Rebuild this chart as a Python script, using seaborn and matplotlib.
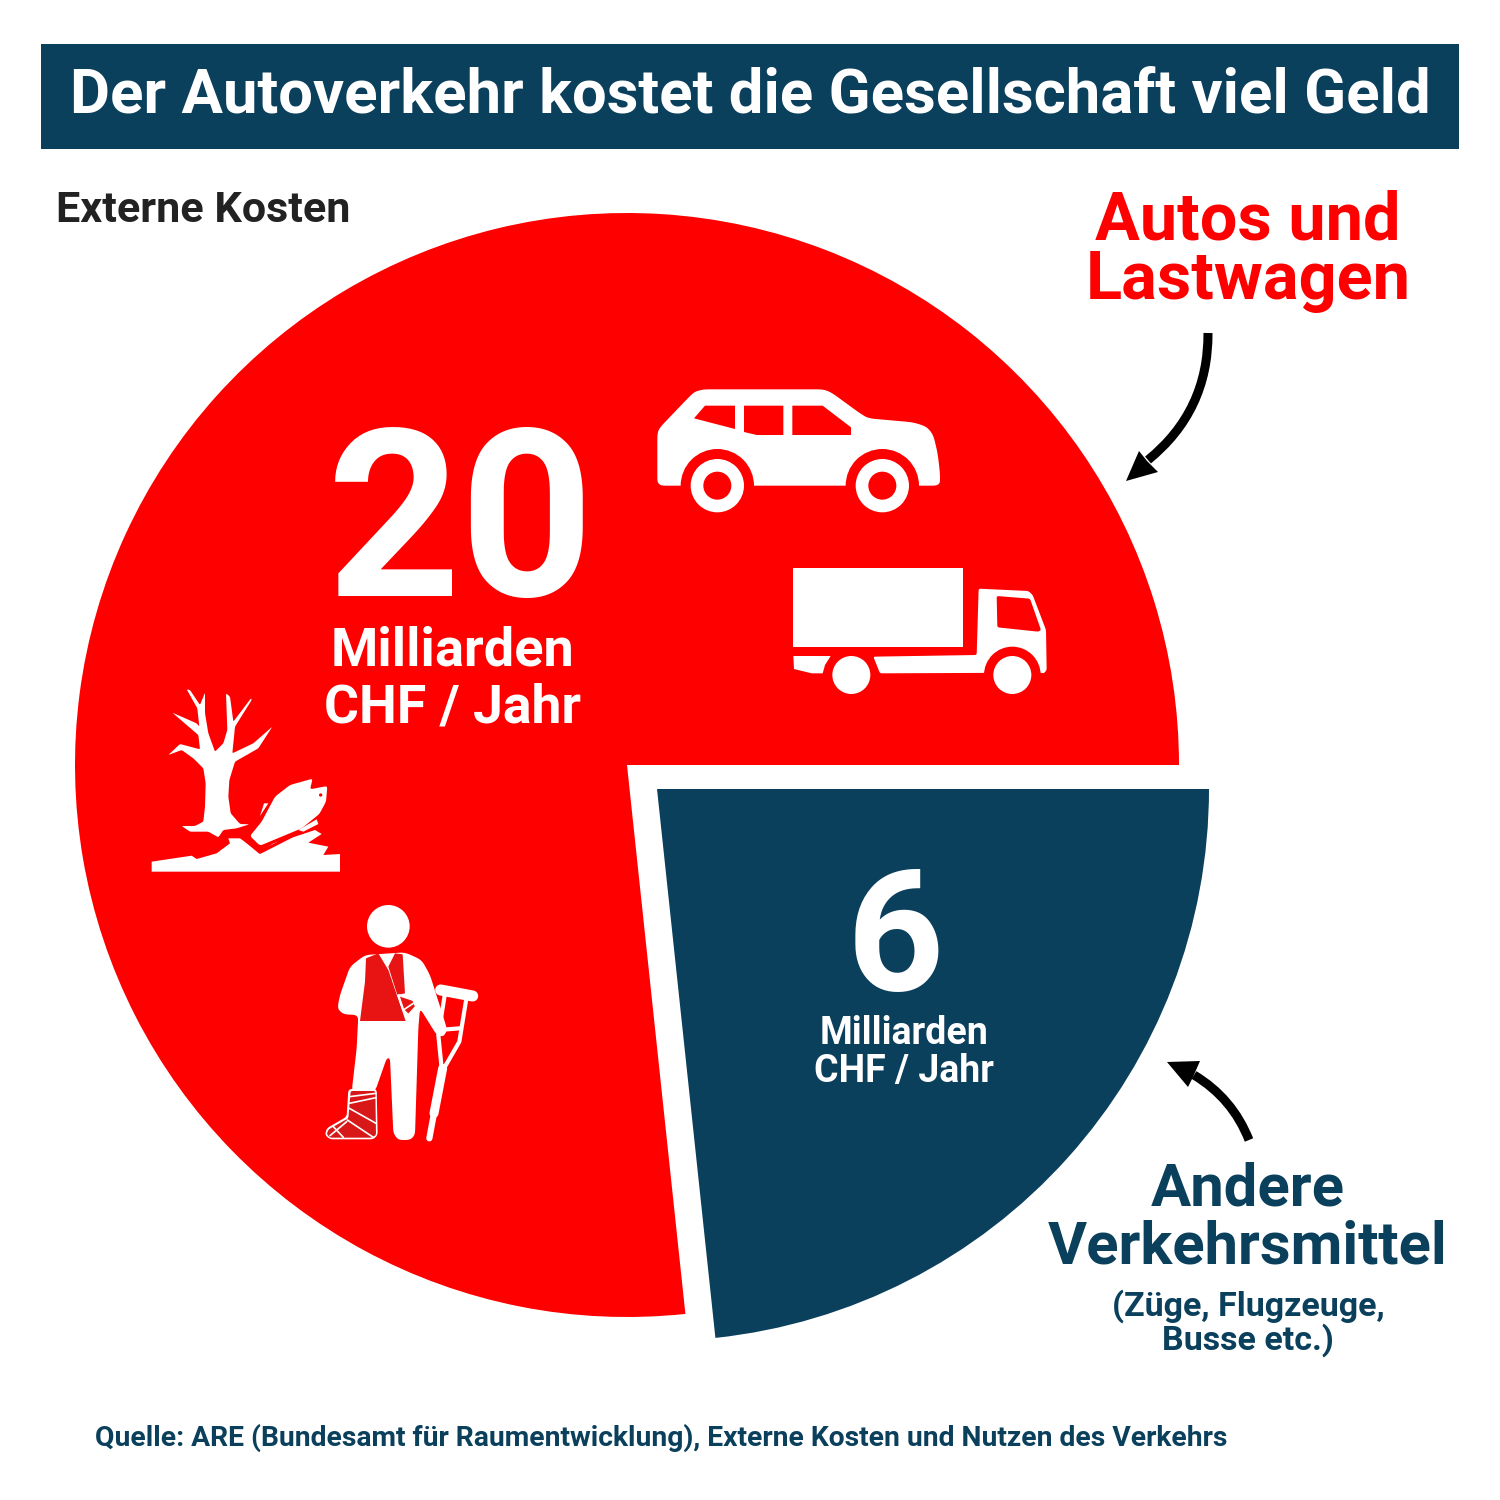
import math
import matplotlib
matplotlib.use("Agg")
import matplotlib.pyplot as plt
import seaborn as sns
from matplotlib.patches import Rectangle, Polygon, Circle, FancyArrowPatch

# ---- data ----
categories = ["Andere Verkehrsmittel", "Autos und Lastwagen"]
costs = [6.08, 20]
colours = ["#0b405d", "#ff0000"]
title_text = "Der Autoverkehr kostet die Gesellschaft viel Geld"
source_text = "Quelle: ARE (Bundesamt für Raumentwicklung), Externe Kosten und Nutzen des Verkehrs"

sns.set_theme(style="white")
plt.rcParams['font.family'] = ['Roboto', 'DejaVu Sans']
palette = sns.color_palette(colours)
BLUE, RED, WHITE = colours[0], colours[1], "white"

fig = plt.figure(figsize=(15, 15), dpi=100, facecolor="white")
ax = fig.add_axes([0, 0, 1, 1])

wedges, _ = ax.pie(costs, colors=palette, startangle=0, counterclock=False,
                   center=(627, 1500 - 765), radius=552, explode=[38, 0],
                   wedgeprops=dict(linewidth=0))
wedges[0].set_center((657, 1500 - 789))
ax.set_xlim(0, 1500)
ax.set_ylim(0, 1500)
ax.set_aspect("equal")
ax.axis("off")


def Y(y):
    return 1500 - y


def T(x, y, s, size, color, ha="center", weight="bold"):
    ax.text(x, Y(y - 3), s, fontsize=size, color=color, ha=ha, va="center_baseline",
            fontweight=weight, zorder=10)


ax.add_patch(Rectangle((41, Y(149)), 1418, 105, color=BLUE, lw=0, zorder=5))
T(750, 94, title_text, 44.4, WHITE)
T(56, 209, "Externe Kosten", 31.1, "#222222", ha="left")
T(1248, 217, "Autos und", 48, RED)
T(1248, 277, "Lastwagen", 48, RED)
T(461, 511, "20", 168, WHITE)
T(452, 648, "Milliarden", 39, WHITE)
T(452, 705, "CHF / Jahr", 38.5, WHITE)
T(895, 929.5, "6", 122, WHITE)
T(904, 1033, "Milliarden", 27, WHITE)
T(904, 1071, "CHF / Jahr", 27, WHITE)
T(1248, 1186, "Andere", 43, BLUE)
T(1248, 1245, "Verkehrsmittel", 43, BLUE)
T(1248, 1305, "(Züge, Flugzeuge,", 24.5, BLUE)
T(1248, 1339, "Busse etc.)", 24.5, BLUE)
T(95, 1438, source_text, 20.3, BLUE, ha="left")

arrows = [((1208, 333), (1148, 460), -0.24, [(1126, 481), (1139, 451), (1147, 461), (1158, 472)]),
          ((1249, 1140), (1194, 1075), 0.17, [(1167, 1062), (1200, 1061), (1193, 1077), (1188, 1087)])]
for a, b, rad, head in arrows:
    ax.add_patch(FancyArrowPatch((a[0], Y(a[1])), (b[0], Y(b[1])),
                                 connectionstyle=f"arc3,rad={rad}", arrowstyle="-",
                                 lw=6.5, color="black", capstyle="butt",
                                 shrinkA=0, shrinkB=0, zorder=8))
    ax.add_patch(Polygon([(p[0], Y(p[1])) for p in head], closed=True, fc="black", lw=0, zorder=8))


def rounded(pts, d):
    out = []
    n = len(pts)
    for i in range(n):
        p0, p1, p2 = pts[i - 1], pts[i], pts[(i + 1) % n]
        l0 = math.dist(p0, p1)
        l2 = math.dist(p1, p2)
        c0 = min(d, l0 * 0.4) / l0
        c2 = min(d, l2 * 0.4) / l2
        a = (p1[0] + (p0[0] - p1[0]) * c0, p1[1] + (p0[1] - p1[1]) * c0)
        b = (p1[0] + (p2[0] - p1[0]) * c2, p1[1] + (p2[1] - p1[1]) * c2)
        for t in (0, 0.25, 0.5, 0.75, 1):
            out.append(((1 - t) ** 2 * a[0] + 2 * t * (1 - t) * p1[0] + t ** 2 * b[0],
                        (1 - t) ** 2 * a[1] + 2 * t * (1 - t) * p1[1] + t ** 2 * b[1]))
    return out


class Icon:
    def __init__(self, ox, oy):
        self.ox, self.oy = ox, oy

    def _p(self, p):
        return (self.ox + p[0] / 3, Y(self.oy + p[1] / 3))

    def poly(self, pts, color=WHITE, z=6, lw=0.0, ec=None, r=0):
        if r:
            pts = rounded(pts, r)
        ax.add_patch(Polygon([self._p(p) for p in pts], closed=True, fc=color,
                             ec=ec or color, lw=lw, zorder=z, joinstyle="round"))

    def circ(self, c, r, color=WHITE, z=6):
        ax.add_patch(Circle(self._p(c), r / 3, fc=color, lw=0, zorder=z))

    def line(self, pts, w, color=WHITE, z=6):
        xy = [self._p(p) for p in pts]
        ax.plot([q[0] for q in xy], [q[1] for q in xy], color=color, lw=w,
                solid_capstyle="round", solid_joinstyle="round", zorder=z)


# car and truck
v = Icon(640, 370)
v.poly([(52, 190), (60, 172), (150, 78), (165, 65), (190, 58), (550, 58), (575, 68), (660, 130),
        (685, 145), (820, 157), (860, 170), (880, 195), (893, 250), (900, 310), (900, 347),
        (52, 347)], r=20)
for cx in (232, 727):
    v.circ((cx, 347), 110, RED, 7)
    v.circ((cx, 347), 80, WHITE, 8)
    v.circ((cx, 347), 42, RED, 9)
v.poly([(162, 145), (195, 107), (285, 107), (285, 177)], RED, 7)
v.poly([(312, 107), (430, 107), (430, 195), (350, 195), (312, 186)], RED, 7)
v.poly([(457, 107), (548, 107), (633, 172), (633, 195), (457, 195)], RED, 7)

v.poly([(460, 593), (969, 593), (969, 830), (460, 830)])
v.poly([(700, 860), (1010, 855), (1016, 656), (1165, 663), (1178, 675), (1218, 780), (1220, 900),
        (1212, 910), (1200, 908), (720, 910)], r=6)
v.circ((1117, 915), 85, RED, 7)
v.circ((1117, 915), 57, WHITE, 8)
v.poly([(1070, 678), (1170, 686), (1203, 780), (1195, 785), (1072, 772)], RED, 7, r=6)
v.poly([(460, 858), (572, 858), (555, 885), (548, 910), (515, 910), (462, 897)])
v.circ((634, 915), 57)

# dead tree and fish
t = Icon(140, 680)
t.poly([(125, 438), (165, 438), (190, 425), (195, 380), (197, 310), (190, 265), (160, 235), (125, 210),
        (85, 225), (120, 192), (180, 208), (175, 165), (97, 98), (170, 130), (178, 140), (172, 85), (140, 28),
        (150, 30), (180, 75), (195, 38), (195, 100), (205, 160), (225, 215), (250, 190), (262, 150),
        (258, 40), (270, 50), (280, 125), (333, 55), (335, 60), (285, 140), (277, 220), (340, 190),
        (397, 140), (355, 205), (285, 245), (268, 300), (265, 350), (272, 400), (300, 432), (328, 433),
        (290, 445), (250, 450), (235, 472), (205, 455), (150, 455)], r=5)
t.poly([(35, 545), (155, 527), (170, 537), (230, 520), (270, 490), (265, 475), (300, 475), (360, 518),
        (400, 490), (480, 465), (525, 450), (545, 462), (505, 488), (565, 500), (550, 525), (600, 522),
        (600, 575), (35, 575)])
t.poly([(330, 468), (365, 425), (405, 350), (450, 315), (518, 296), (510, 328), (562, 318), (558, 365),
        (538, 402), (485, 445), (360, 497)], WHITE, 7, r=8)
t.line([(318, 482), (360, 517), (535, 428)], 2.2, RED, 8)
t.poly([(372, 370), (385, 370), (360, 408)], WHITE, 7)
t.poly([(475, 450), (530, 418), (535, 432), (490, 455)], WHITE, 8)
t.circ((542, 345), 5, RED, 8)

# injured person
h = Icon(310, 895)
h.circ((235, 94), 64)
h.poly([(120, 215), (165, 180), (285, 172), (335, 195), (360, 240), (395, 350), (412, 405), (400, 425),
        (380, 420), (330, 340), (325, 400), (315, 720), (300, 735), (265, 735), (250, 715), (240, 490),
        (230, 490), (195, 590), (125, 590), (140, 460), (145, 360), (100, 358), (82, 340), (90, 300)], r=16)
h.poly([(168, 190), (205, 175), (235, 225), (287, 378), (150, 378), (165, 260)], "#e81414", 7)
h.poly([(255, 175), (278, 178), (285, 295), (262, 300), (235, 215)], "#e81414", 7)
h.poly([(265, 300), (310, 315), (318, 335), (295, 360), (280, 345)], "#e81414", 7, lw=1.5, ec=WHITE)
h.line([(280, 345), (310, 325)], 1.2, WHITE, 8)
h.poly([(115, 583), (140, 580), (200, 582), (203, 720), (190, 733), (60, 733), (45, 720), (50, 700), (110, 665)], r=10)
h.poly([(122, 588), (196, 588), (198, 720), (185, 728), (60, 728), (50, 717), (56, 703), (115, 670)], "#d81818", 7, r=6)
for seg in [[(118, 605), (198, 595)], [(118, 625), (198, 608)], [(118, 640), (198, 685)],
            [(112, 675), (190, 727)], [(70, 695), (100, 727)], [(60, 722), (110, 680)]]:
    h.line(seg, 1.2, WHITE, 8)
h.line([(392, 285), (488, 303)], 8)
h.line([(405, 295), (385, 420), (395, 520)], 3)
h.line([(470, 305), (448, 440), (402, 520)], 3)
h.line([(385, 405), (450, 400)], 3)
h.line([(398, 520), (372, 655)], 6.5)
h.line([(372, 655), (358, 730)], 4.5)

fig.savefig("out.png", dpi=100)
